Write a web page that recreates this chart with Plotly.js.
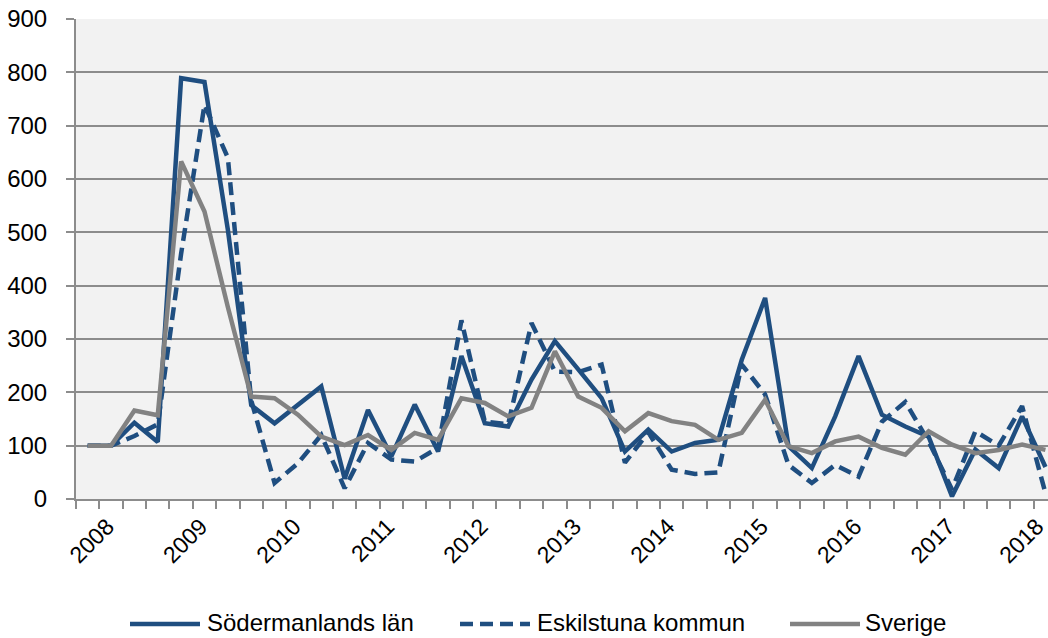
<!DOCTYPE html>
<html>
<head>
<meta charset="utf-8">
<script src="https://cdn.plot.ly/plotly-3.0.1.min.js"></script>
<style>
  html, body { margin: 0; padding: 0; background: #ffffff; overflow: hidden; }
  #chart { width: 1048px; height: 638px; }
</style>
</head>
<body>
<div id="chart"></div>
<script>
// ---- Data (quarterly index) ----
const seriesNames = ["Södermanlands län", "Eskilstuna kommun", "Sverige"];

const sodermanland = [100, 100, 143, 107, 789, 782, 505, 176, 142, 176,
                      211, 38, 167, 80, 177, 89, 268, 142, 136, 224,
                      296, 243, 189, 89, 130, 89, 105, 111, 261, 377,
                      99, 58, 155, 268, 158, 136, 117, 5, 93, 58,
                      155, 60];

const eskilstuna = [100, 100, 118, 140, 460, 739, 640, 185, 30, 67,
                    120, 20, 105, 74, 70, 96, 335, 145, 140, 330,
                    239, 238, 252, 68, 125, 55, 47, 50, 252, 196,
                    64, 30, 64, 42, 145, 182, 108, 18, 127, 100,
                    174, 11];

const sverige = [100, 100, 166, 157, 633, 539, 360, 192, 189, 158,
                 117, 101, 120, 92, 124, 111, 189, 180, 155, 171,
                 277, 192, 171, 127, 161, 146, 139, 111, 124, 186,
                 99, 86, 108, 117, 96, 83, 127, 102, 86, 92,
                 102, 92];

const yearLabels = ["2008", "2009", "2010", "2011", "2012", "2013",
                    "2014", "2015", "2016", "2017", "2018"];
const yearTickIndex = [1, 5, 9, 13, 17, 21, 25, 29, 33, 37, 41];

// ---- Styling ----
const blue = "#1f4e80";
const grey = "#828282";
const axisGrey = "#8c8c8c";
const FONT = "Liberation Sans, Arial, sans-serif";
const labelShift = -0.16; // small leftward nudge of the rotated year labels

const xIdx = sodermanland.map((_, i) => i);

const traces = [
  { x: xIdx, y: sodermanland, name: seriesNames[0], type: "scatter", mode: "lines",
    line: { color: blue, width: 4.5 } },
  { x: xIdx, y: eskilstuna, name: seriesNames[1], type: "scatter", mode: "lines",
    line: { color: blue, width: 4.5, dash: "13px,7px" } },
  { x: xIdx, y: sverige, name: seriesNames[2], type: "scatter", mode: "lines",
    line: { color: grey, width: 4.5 } }
];

// plot area geometry (pixels)
const W = 1048, H = 638;
const mL = 76, mR = 0, mT = 19, mB = 139;
const plotW = W - mL - mR, plotH = H - mT - mB;
const px = v => (v - mL) / plotW;
const py = v => (H - mB - v) / plotH;

// custom legend
const legendY = 622;
const legendItems = [
  { x0: 130, x1: 200, tx: 205, color: blue, dash: "solid", label: seriesNames[0] },
  { x0: 460, x1: 530, tx: 535, color: blue, dash: "13px,7px", label: seriesNames[1] },
  { x0: 790, x1: 860, tx: 863, color: grey, dash: "solid", label: seriesNames[2] }
];
const shapes = legendItems.map(it => ({
  type: "line", xref: "paper", yref: "paper",
  x0: px(it.x0), x1: px(it.x1), y0: py(legendY + 2), y1: py(legendY + 2),
  line: { color: it.color, width: 4.5, dash: it.dash }
}));
const annotations = legendItems.map(it => ({
  xref: "paper", yref: "paper", x: px(it.tx), y: py(legendY),
  xanchor: "left", yanchor: "middle", showarrow: false,
  text: it.label, font: { family: FONT, size: 24, color: "#000000" }
}));

const lastIdx = yearTickIndex.length - 1;

const layout = {
  width: W, height: H,
  margin: { l: mL, r: mR, t: mT, b: mB, pad: 0 },
  paper_bgcolor: "#ffffff",
  plot_bgcolor: "#f2f2f2",
  showlegend: false,
  font: { family: FONT, size: 24, color: "#000000" },
  xaxis: {
    range: [-0.5, -0.5 + plotW / 23.36],
    tickmode: "array",
    tickvals: yearTickIndex.map((i, k) => i + labelShift - (k === lastIdx ? 0.2 : 0)),
    ticktext: yearLabels,
    tickangle: -45,
    ticks: "outside", ticklen: 3, tickcolor: "rgba(0,0,0,0)",
    ticklabeloverflow: "allow",
    tickfont: { family: FONT, size: 23, color: "#000000" },
    showgrid: false, zeroline: false,
    showline: true, linecolor: axisGrey, linewidth: 2,
    minor: { tick0: -0.5, dtick: 1, ticks: "outside", ticklen: 8,
             tickcolor: axisGrey, tickwidth: 2, showgrid: false },
    fixedrange: true
  },
  yaxis: {
    range: [0, 900], dtick: 100, tick0: 0,
    showgrid: true, gridcolor: axisGrey, gridwidth: 2,
    zeroline: false,
    showline: true, linecolor: axisGrey, linewidth: 2,
    ticks: "outside", ticklen: 8, tickwidth: 2, tickcolor: axisGrey,
    ticklabelstandoff: 14,
    tickfont: { family: FONT, size: 24, color: "#000000" },
    fixedrange: true
  },
  shapes: shapes,
  annotations: annotations
};

Plotly.newPlot("chart", traces, layout, { displayModeBar: false, staticPlot: true });
</script>
</body>
</html>
